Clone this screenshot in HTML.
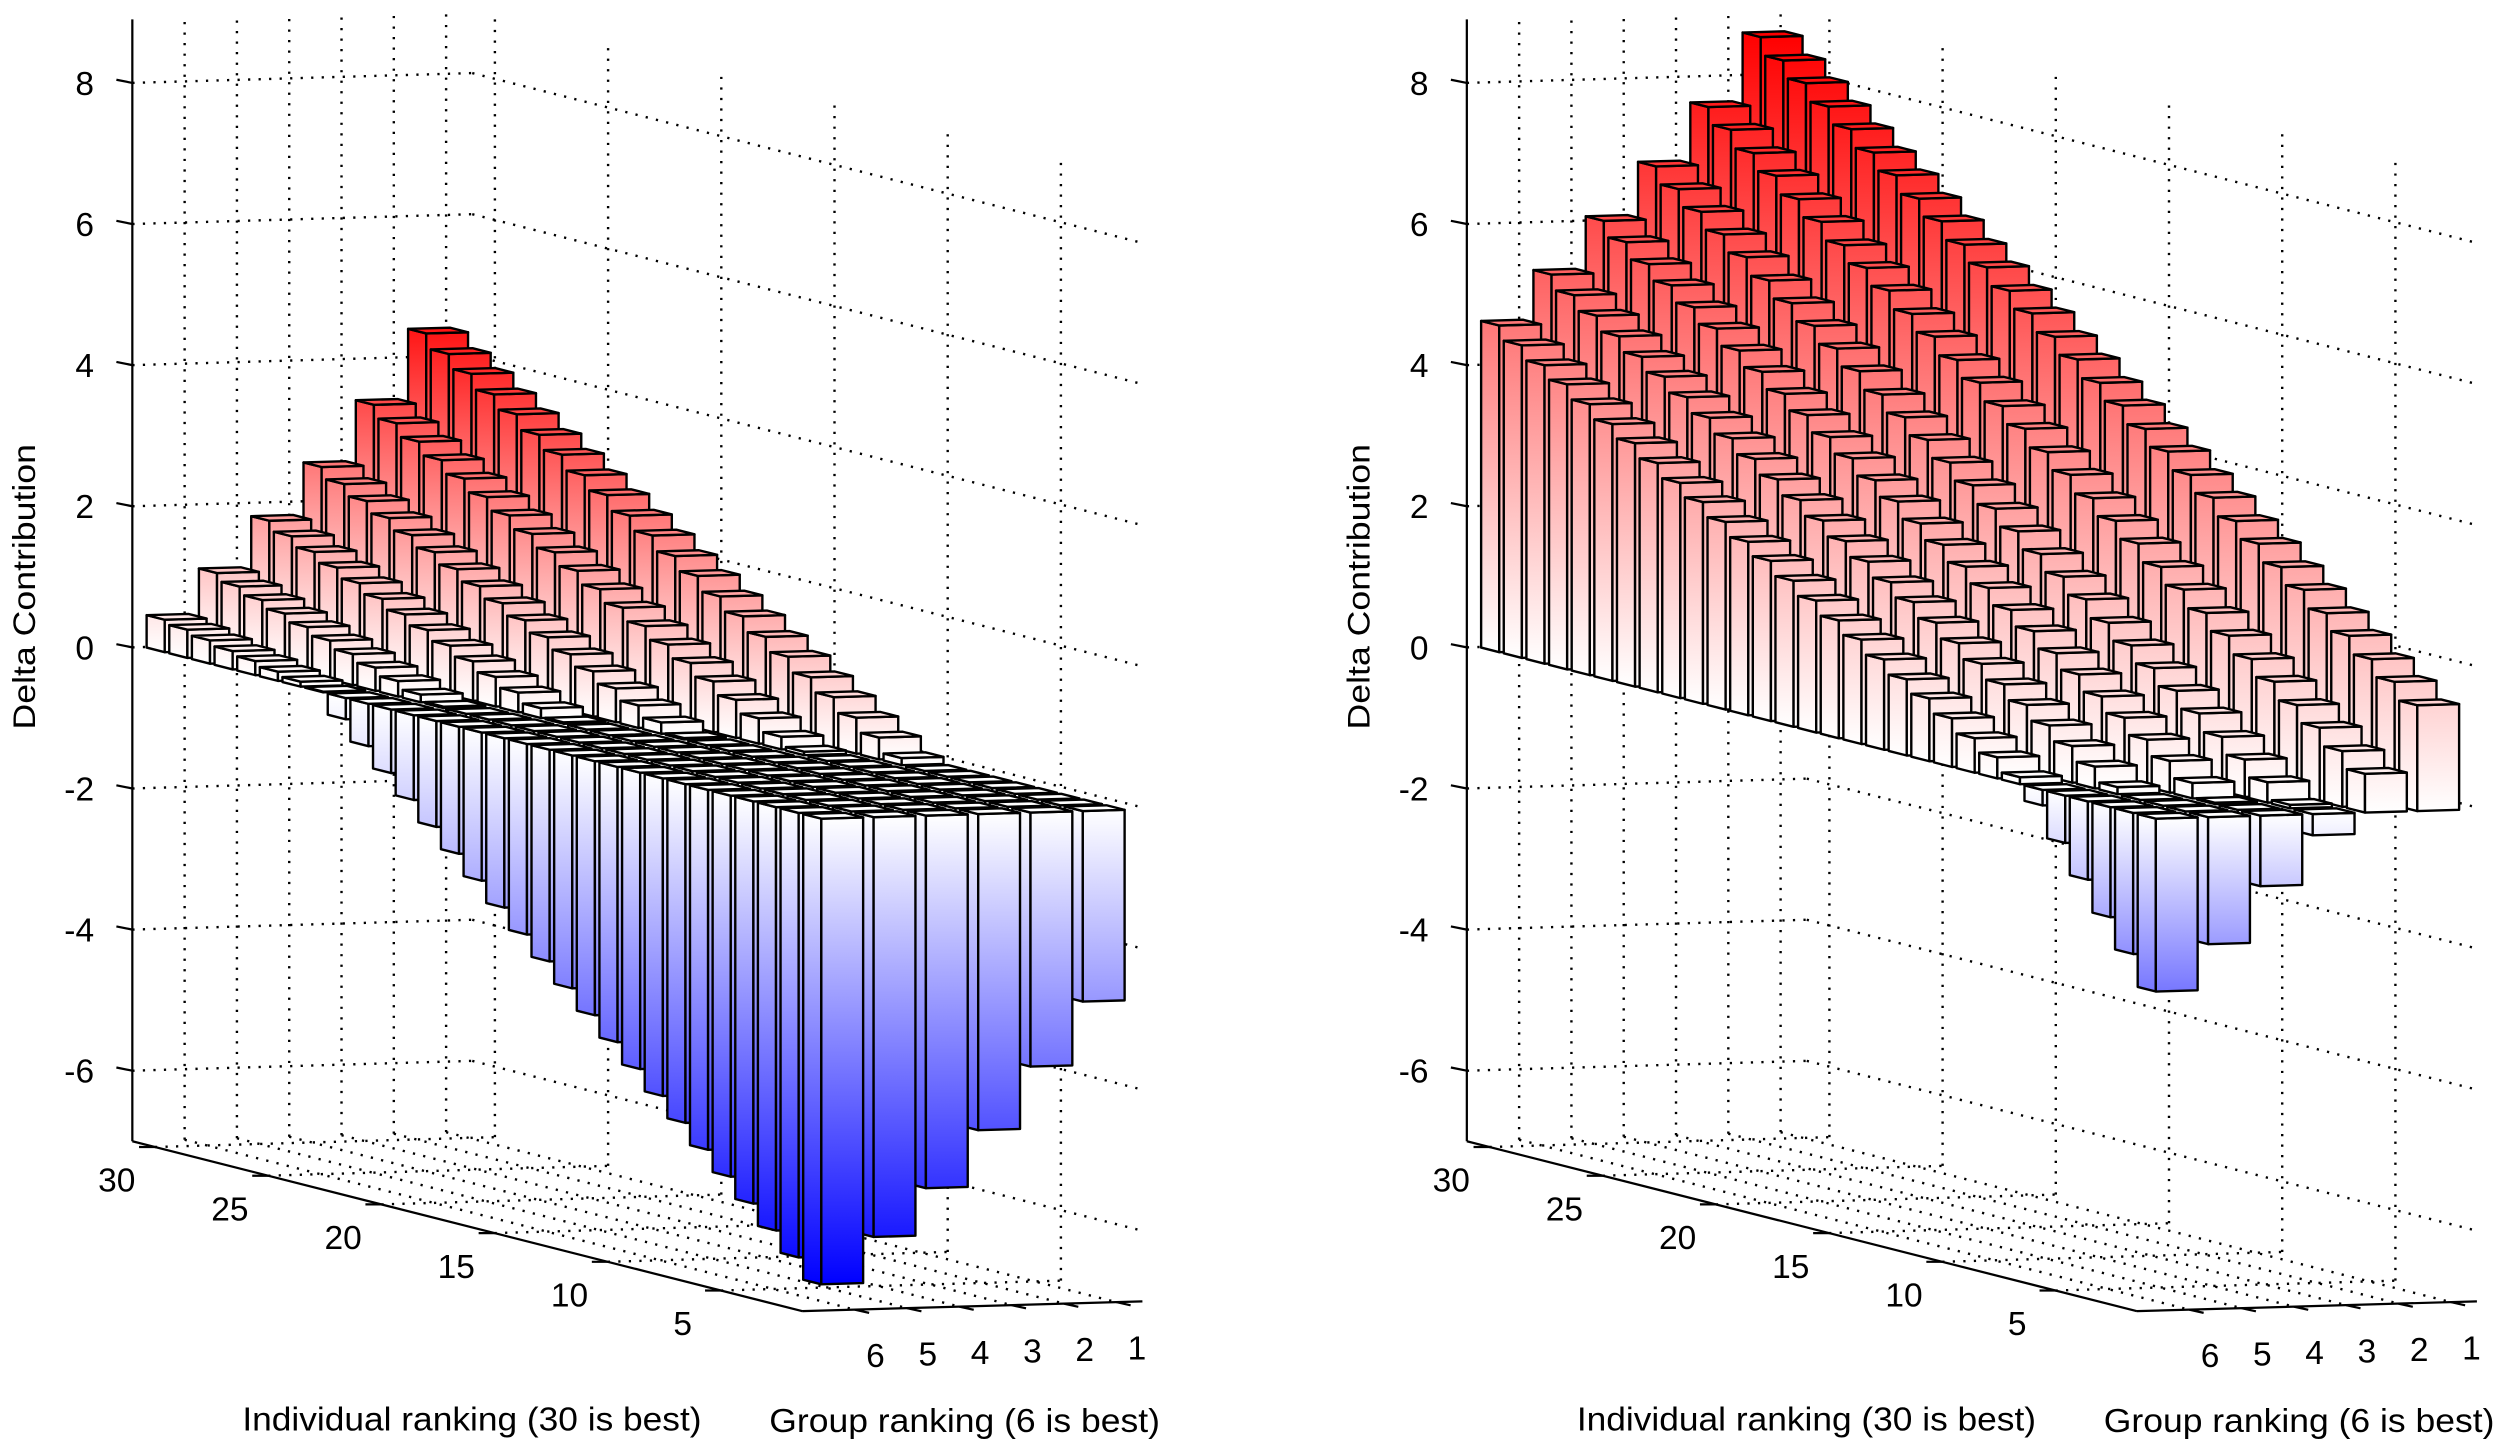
<!DOCTYPE html>
<html>
<head>
<meta charset="utf-8">
<style>
html,body{margin:0;padding:0;background:#fff;}
svg{display:block;}
text{font-family:"Liberation Sans",Arial,sans-serif;fill:#000;}
</style>
</head>
<body>
<svg id="fig" xmlns="http://www.w3.org/2000/svg" width="2500" height="1451" viewBox="0 0 1568 910" preserveAspectRatio="none">
  <defs id="grads"></defs>
  <g id="chart-left"></g>
  <g id="chart-right"></g>
</svg>
<script>
// ---- data (Delta Contribution per group rank g=1..6, individual rank i=1..30) ----
const individualRanks = [1,2,3,4,5,6,7,8,9,10,11,12,13,14,15,16,17,18,19,20,21,22,23,24,25,26,27,28,29,30];
const groupRanks = [1,2,3,4,5,6];
const zTicks = [-6,-4,-2,0,2,4,6,8];
const iTickLabels = [30,25,20,15,10,5];
const gTickLabels = [6,5,4,3,2,1];

const leftG1 = [-2.70,-2.34,-1.98,-1.62,-1.26,-0.90,-0.54,-0.18,0.10,0.31,0.51,0.72,0.92,1.13,1.33,1.54,1.74,1.95,2.15,2.36,2.56,2.77,2.97,3.18,3.38,3.59,3.79,4.00,4.20,4.41];
const leftG2 = [-3.60,-3.24,-2.88,-2.52,-2.16,-1.80,-1.44,-1.08,-0.72,-0.36,0.05,0.18,0.36,0.54,0.72,0.90,1.08,1.26,1.44,1.62,1.80,1.98,2.16,2.34,2.52,2.70,2.88,3.06,3.24,3.42];
const leftG3 = [-4.48,-4.14,-3.79,-3.45,-3.10,-2.76,-2.41,-2.07,-1.72,-1.38,-1.03,-0.69,-0.34,0.02,0.16,0.32,0.48,0.64,0.80,0.96,1.12,1.28,1.44,1.60,1.76,1.92,2.08,2.24,2.40,2.56];
const leftG4 = [-5.28,-4.95,-4.62,-4.29,-3.96,-3.63,-3.30,-2.97,-2.64,-2.31,-1.98,-1.65,-1.32,-0.99,-0.66,-0.33,0.02,0.14,0.28,0.42,0.56,0.70,0.84,0.98,1.12,1.26,1.40,1.54,1.68,1.82];
const leftG5 = [-5.95,-5.63,-5.32,-5.01,-4.70,-4.38,-4.07,-3.76,-3.44,-3.13,-2.82,-2.50,-2.19,-1.88,-1.57,-1.25,-0.94,-0.63,-0.31,0.02,0.11,0.22,0.33,0.44,0.55,0.66,0.77,0.88,0.99,1.10];
const leftG6 = [-6.60,-6.30,-6.00,-5.70,-5.40,-5.10,-4.80,-4.50,-4.20,-3.90,-3.60,-3.30,-3.00,-2.70,-2.40,-2.10,-1.80,-1.50,-1.20,-0.90,-0.60,-0.30,0.01,0.07,0.13,0.20,0.26,0.33,0.40,0.46];

const rightG1 = [1.50,1.75,1.99,2.24,2.48,2.73,2.97,3.22,3.46,3.71,3.95,4.20,4.44,4.69,4.93,5.18,5.42,5.67,5.91,6.16,6.40,6.65,6.89,7.14,7.38,7.63,7.87,8.12,8.36,8.61];
const rightG2 = [0.55,0.79,1.04,1.28,1.53,1.77,2.02,2.26,2.51,2.75,3.00,3.24,3.48,3.73,3.97,4.22,4.46,4.71,4.95,5.20,5.44,5.69,5.93,6.17,6.42,6.66,6.91,7.15,7.40,7.64];
const rightG3 = [-0.30,0.05,0.29,0.53,0.77,1.02,1.26,1.50,1.74,1.98,2.23,2.47,2.71,2.95,3.19,3.44,3.68,3.92,4.16,4.40,4.65,4.89,5.13,5.37,5.61,5.86,6.10,6.34,6.58,6.82];
const rightG4 = [-1.00,-0.50,0.02,0.22,0.45,0.67,0.90,1.12,1.35,1.57,1.80,2.02,2.25,2.47,2.70,2.92,3.15,3.37,3.60,3.82,4.05,4.27,4.50,4.72,4.95,5.17,5.40,5.62,5.85,6.07];
const rightG5 = [-1.80,-1.28,-0.77,-0.26,0.10,0.31,0.52,0.73,0.94,1.15,1.36,1.57,1.78,1.99,2.19,2.40,2.61,2.82,3.03,3.24,3.45,3.66,3.87,4.08,4.29,4.49,4.70,4.91,5.12,5.33];
const rightG6 = [-2.45,-2.00,-1.56,-1.11,-0.67,-0.22,0.10,0.30,0.49,0.69,0.89,1.08,1.28,1.48,1.67,1.87,2.07,2.27,2.46,2.66,2.86,3.05,3.25,3.45,3.64,3.84,4.04,4.23,4.43,4.63];

const leftRows = [leftG1,leftG2,leftG3,leftG4,leftG5,leftG6];
const rightRows = [rightG1,rightG2,rightG3,rightG4,rightG5,rightG6];

// ---- geometry (display units, viewBox 1568x910) ----
const NS = 'http://www.w3.org/2000/svg';
const GU = 32.8, GUY = -0.95;
const IU = 14.2, IUY = 3.6;
const ZU = 44.25, Y0 = 406;
const UMAX = 6.5, WMAX = 29.6, ZMIN = -7, ZMAX = 8.9;
const A_BAR = 30.5, B_BAR = 6.63;
const defs = document.getElementById('grads');

function P(ox, u, w, z){ return [ox + u*GU + w*IU, Y0 + u*GUY + w*IUY - z*ZU]; }
function pts(arr){ return arr.map(p=>p[0].toFixed(2)+','+p[1].toFixed(2)).join(' '); }
function el(tag, parent){ const e=document.createElementNS(NS,tag); parent.appendChild(e); return e; }
function colorFor(v, posS, negS){
  if(v>=0){ const t=Math.min(1,v/posS); const c=Math.round(255*(1-t)); return 'rgb(255,'+c+','+c+')'; }
  const t=Math.min(1,-v/negS); const c=Math.round(255*(1-t)); return 'rgb('+c+','+c+',255)';
}
function dotLine(g, a, b, name){
  const l = el('line', g);
  
  
  l.setAttribute('x1',a[0]); l.setAttribute('y1',a[1]); l.setAttribute('x2',b[0]); l.setAttribute('y2',b[1]);
  l.setAttribute('stroke','#000'); l.setAttribute('stroke-width','1.5');
  l.setAttribute('stroke-dasharray','1.4 5.2');
  return l;
}
function solidLine(g, a, b, name, w){
  const l = el('line', g);
  
  
  l.setAttribute('x1',a[0]); l.setAttribute('y1',a[1]); l.setAttribute('x2',b[0]); l.setAttribute('y2',b[1]);
  l.setAttribute('stroke','#000'); l.setAttribute('stroke-width', w||1.2);
  return l;
}
function txt(g, x, y, s, name, size, anchor, len){
  const t = el('text', g);
  
  
  t.setAttribute('x', x); t.setAttribute('y', y);
  t.setAttribute('font-size', size);
  t.setAttribute('text-anchor', anchor||'middle');
  if(len){ t.setAttribute('textLength', len); t.setAttribute('lengthAdjust','spacingAndGlyphs'); }
  t.textContent = s;
  return t;
}

function drawChart(gid, ox, rows, posS, negS, pfx){
  const root = document.getElementById(gid);
  const grid = el('g', root);
  
  
  zTicks.forEach(z=>{
    dotLine(grid, P(ox,0,0,z), P(ox,UMAX,0,z), 'z-gridline-left-wall');
    dotLine(grid, P(ox,UMAX,0,z), P(ox,UMAX,WMAX,z), 'z-gridline-back-wall');
  });
  gTickLabels.forEach(gv=>{
    const u = 7 - gv;
    if(u < UMAX-0.2){
      dotLine(grid, P(ox,u,0,ZMIN), P(ox,u,0,ZMAX), 'g-gridline-wall');
    }
    dotLine(grid, P(ox,u,0,ZMIN), P(ox,u,WMAX,ZMIN), 'g-gridline-floor');
  });
  iTickLabels.forEach(iv=>{
    const w = 31 - iv;
    dotLine(grid, P(ox,UMAX,w,ZMIN), P(ox,UMAX,w,ZMAX), 'i-gridline-wall');
    dotLine(grid, P(ox,0,w,ZMIN), P(ox,UMAX,w,ZMIN), 'i-gridline-floor');
  });

  const bars = el('g', root);
  
  
  for(let ii=individualRanks.length-1; ii>=0; ii--){
    const iv = individualRanks[ii];
    for(let gi=0; gi<groupRanks.length; gi++){
      const gv = groupRanks[gi];
      const v = rows[gi][ii];
      const zlo = Math.min(0,v), zhi = Math.max(0,v);
      const u0 = B_BAR-(gv+0.4), u1 = B_BAR-(gv-0.4);
      const w0 = A_BAR-(iv+0.4), w1 = A_BAR-(iv-0.4);
      const col = colorFor(v, posS, negS);
      const gid2 = pfx+'g'+gv+'i'+iv;
      const lg = el('linearGradient', defs);
      lg.setAttribute('id', gid2);
      lg.setAttribute('x1','0'); lg.setAttribute('x2','0');
      lg.setAttribute('y1', v>=0 ? '1':'0'); lg.setAttribute('y2', v>=0 ? '0':'1');
      const s1 = el('stop', lg); s1.setAttribute('offset','0'); s1.setAttribute('stop-color','#ffffff');
      const s2 = el('stop', lg); s2.setAttribute('offset','1'); s2.setAttribute('stop-color',col);
      const bar = el('g', bars);
      
      
      const f1 = el('polygon', bar);
      
      
      f1.setAttribute('points', pts([P(ox,u0,w0,zlo),P(ox,u0,w1,zlo),P(ox,u0,w1,zhi),P(ox,u0,w0,zhi)]));
      f1.setAttribute('fill', 'url(#'+gid2+')');
      const f2 = el('polygon', bar);
      
      
      f2.setAttribute('points', pts([P(ox,u0,w1,zlo),P(ox,u1,w1,zlo),P(ox,u1,w1,zhi),P(ox,u0,w1,zhi)]));
      f2.setAttribute('fill', 'url(#'+gid2+')');
      const f3 = el('polygon', bar);
      
      
      f3.setAttribute('points', pts([P(ox,u0,w0,zhi),P(ox,u1,w0,zhi),P(ox,u1,w1,zhi),P(ox,u0,w1,zhi)]));
      f3.setAttribute('fill', v>=0 ? col : '#ffffff');
      [f1,f2,f3].forEach(f=>{ f.setAttribute('stroke','#000'); f.setAttribute('stroke-width','1.5'); f.setAttribute('stroke-linejoin','round'); });
    }
  }

  const ax = el('g', root);
  
  
  solidLine(ax, P(ox,0,0,ZMIN), P(ox,0,0,ZMAX), 'z-axis-line', 1.4);
  solidLine(ax, P(ox,0,0,ZMIN), P(ox,0,WMAX,ZMIN), 'individual-axis-line', 1.4);
  solidLine(ax, P(ox,0,WMAX,ZMIN), P(ox,UMAX,WMAX,ZMIN), 'group-axis-line', 1.4);
  zTicks.forEach(z=>{
    const p = P(ox,0,0,z);
    solidLine(ax, [p[0]-10,p[1]-2], p, 'z-tick', 1.4);
    txt(ax, p[0]-24, p[1]+7.5, String(z), 'z-tick-label', 21, 'end');
  });
  iTickLabels.forEach(iv=>{
    const p = P(ox,0,31-iv,ZMIN);
    solidLine(ax, [p[0]-10,p[1]], p, 'individual-tick', 1.4);
    txt(ax, p[0]-24, p[1]+28, String(iv), 'individual-tick-label', 21, 'middle');
  });
  gTickLabels.forEach(gv=>{
    const p = P(ox,7-gv,WMAX,ZMIN);
    solidLine(ax, p, [p[0]+9,p[1]+2], 'group-tick', 1.4);
    txt(ax, p[0]+13, p[1]+36, String(gv), 'group-tick-label', 21, 'middle');
  });
  const yt = txt(ax, 0, 0, 'Delta Contribution', 'z-axis-title', 20, 'middle', 179);
  yt.setAttribute('transform', 'translate('+(ox-61)+',368) rotate(-90)');
  txt(ax, ox+213, 897, 'Individual ranking (30 is best)', 'x-axis-title', 21, 'middle', 288);
  txt(ax, ox+522, 898, 'Group ranking (6 is best)', 'y-axis-title', 21, 'middle', 245);
}

drawChart('chart-left', 83, leftRows, 4.8, 6.6, 'L');
drawChart('chart-right', 920, rightRows, 8.6, 4.6, 'R');
</script>
</body>
</html>
